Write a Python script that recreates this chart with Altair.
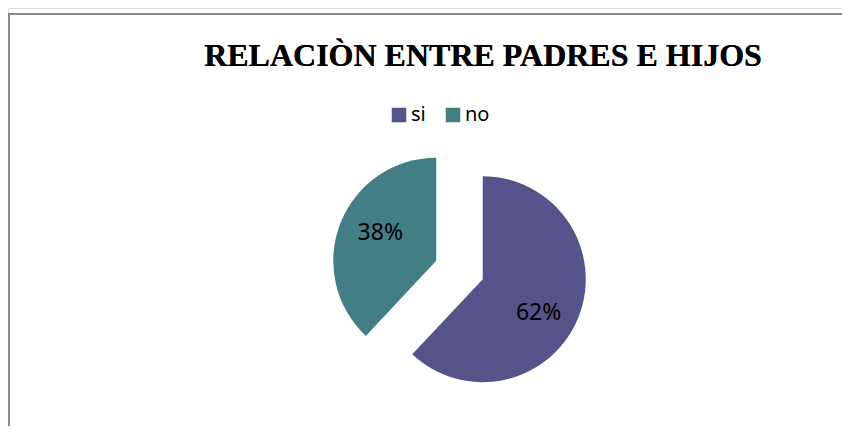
import altair as alt
import pandas as pd

# ---- data ----
categories = ["si", "no"]
values = [62, 38]
order = [0, 1]
colors = ["#55548A", "#427F84"]
title_text = "RELACIÒN ENTRE PADRES E HIJOS"

# ---- layout (styles) ----
W, H = 834, 418
CX, CY = 451.5, 262.0
R = 103
EXPL = 25
LABEL_R = 64
LABEL_ROT = 7.5  # degrees

df = pd.DataFrame({"cat": categories, "val": values, "order": order})

base = (
    alt.Chart(df)
    .transform_window(cum="sum(val)", sort=[alt.SortField("order")])
    .transform_joinaggregate(total="sum(val)")
    .transform_calculate(t1="2*PI*datum.cum/datum.total")
    .transform_calculate(t0="2*PI*(datum.cum-datum.val)/datum.total")
    .transform_calculate(mid="(datum.t0+datum.t1)/2")
    .transform_calculate(cx=f"{CX}+{EXPL}*sin(datum.mid)")
    .transform_calculate(cy=f"{CY}-{EXPL}*cos(datum.mid)")
    .transform_calculate(la=f"datum.mid+{LABEL_ROT}*PI/180")
    .transform_calculate(lx=f"datum.cx+{LABEL_R}*sin(datum.la)")
    .transform_calculate(ly=f"datum.cy-{LABEL_R}*cos(datum.la)")
    .transform_calculate(lbl="round(100*datum.val/datum.total)+'%'")
)

arcs = base.mark_arc(radius=R).encode(
    x=alt.X("cx:Q", scale=None, axis=None),
    y=alt.Y("cy:Q", scale=None, axis=None),
    theta=alt.Theta("t0:Q", scale=None),
    theta2="t1:Q",
    color=alt.Color(
        "cat:N",
        scale=alt.Scale(domain=categories, range=colors),
        legend=alt.Legend(
            title=None,
            orient="none",
            legendX=381,
            legendY=97,
            direction="horizontal",
            symbolType="square",
            symbolSize=210,
            symbolStrokeWidth=0,
            labelFont="Noto Sans",
            labelFontSize=20,
            labelColor="#000000",
            columnPadding=17,
            labelOffset=2,
        ),
    ),
)

labels = base.mark_text(font="Noto Sans", fontSize=23, color="#000000", dy=3).encode(
    x=alt.X("lx:Q", scale=None, axis=None),
    y=alt.Y("ly:Q", scale=None, axis=None),
    text="lbl:N",
)

title = base.mark_text(
    font="Liberation Serif", fontSize=32, fontWeight="bold", color="#000000",
    baseline="alphabetic", align="center",
).encode(x=alt.value(475), y=alt.value(58), text=alt.value(title_text))

border_top = base.mark_rule(color="#898989", strokeWidth=2).encode(
    x=alt.value(0), x2=alt.value(W), y=alt.value(6), y2=alt.value(6)
)
border_left = base.mark_rule(color="#898989", strokeWidth=2).encode(
    x=alt.value(1), x2=alt.value(1), y=alt.value(5), y2=alt.value(H)
)

chart = (
    alt.layer(border_top, border_left, arcs, labels, title)
    .properties(width=W, height=H, autosize=alt.AutoSizeParams(type="none"), padding=0)
    .configure_view(strokeWidth=0, stroke=None, fill=None)
    .configure(background="#ffffff")
)

chart.save("out.html", embed_options={"renderer": "svg", "actions": False})
